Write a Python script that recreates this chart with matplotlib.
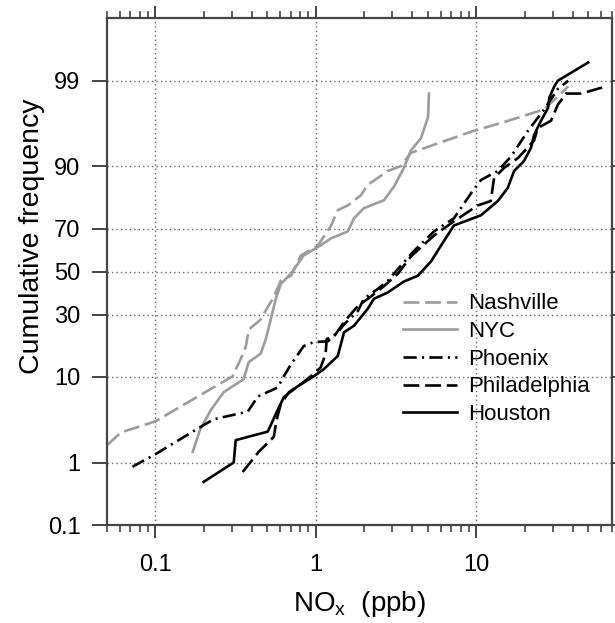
import matplotlib
matplotlib.use('Agg')
import matplotlib.pyplot as plt
import numpy as np
from statistics import NormalDist
from matplotlib.ticker import NullLocator, NullFormatter, LogLocator

plt.rcParams['font.family'] = ['Liberation Sans', 'DejaVu Sans']

# cumulative frequency curves (NOx in ppb, cumulative frequency in %)
nash_x = [0.0504, 0.061, 0.10, 0.184, 0.303, 0.34, 0.366, 0.382, 0.454, 0.502, 0.54, 0.605,
          0.70, 0.806, 1.03, 1.24, 1.37, 1.58, 1.91, 2.11, 2.81, 3.39, 3.91, 5.45, 9.67,
          14.3, 26.5, 37.4]
nash_p = [1.74, 2.5, 3.4, 6.4, 10.1, 14.3, 18, 24, 28, 33.4, 37, 45.6,
          48, 57.8, 62.5, 71, 77.3, 79, 82.4, 85.5, 89, 90.1, 92.6, 93.9, 95.7,
          96.5, 97.6, 98.8]

nyc_x = [0.171, 0.19, 0.222, 0.267, 0.355, 0.382, 0.454, 0.488, 0.524, 0.563, 0.605, 0.70,
         0.84, 1.07, 1.24, 1.58, 1.73, 1.99, 2.66, 3.07, 3.54, 3.91, 4.52, 5.0, 5.07]
nyc_p = [1.4, 2.7, 4.6, 7.1, 9.5, 13.5, 15.9, 20.6, 28, 37, 44, 49,
         57.8, 62.5, 65.7, 68.8, 74.2, 78, 80.8, 85, 89.7, 93, 94.8, 97, 98.5]

phx_x = [0.072, 0.10, 0.19, 0.231, 0.377, 0.435, 0.579, 0.632, 0.70, 0.84, 0.97, 1.19,
         1.37, 1.50, 1.83, 1.99, 2.44, 2.81, 3.39, 4.09, 5.45, 7.25, 9.27, 10.7, 13.6,
         16.5, 21.0, 26.5, 32.2, 37.4]
phx_p = [0.87, 1.3, 2.9, 3.6, 4.4, 6.4, 7.9, 10.1, 12.9, 18.2, 19.5, 19.8,
         23, 26, 31.6, 37, 41.7, 45.6, 52.9, 60, 68.8, 74.2, 83, 86.8, 89,
         92, 95.7, 97.6, 98.7, 99.0]

phl_x = [0.35, 0.44, 0.547, 0.571, 0.605, 0.68, 0.806, 0.93, 1.07, 1.15, 1.17, 1.30,
         1.50, 1.83, 2.2, 2.66, 3.25, 3.91, 5.45, 7.25, 10.2, 12.3, 12.9, 14.9, 18.2,
         22.9, 24.2, 29.2, 32.2, 36.3, 45, 64.4]
phl_p = [0.73, 1.4, 2.2, 3.6, 5.3, 7.1, 8.5, 10.1, 12.1, 15.7, 20.6, 21.5,
         27, 33.8, 38, 43, 49, 57.3, 67, 73, 79, 80.5, 87.3, 89.7, 91.7,
         94.5, 96, 96.7, 97.9, 98.5, 98.5, 98.8]

hou_x = [0.20, 0.308, 0.317, 0.502, 0.579, 0.632, 0.77, 0.97, 1.12, 1.37, 1.50, 1.73,
         2.11, 2.3, 2.81, 3.54, 4.32, 5.22, 6.03, 7.25, 10.7, 13.6, 15.7, 17.2, 19.8,
         21.9, 22.9, 25.3, 28, 28.5, 30.6, 32.2, 49.8]
hou_p = [0.52, 1.0, 2.0, 2.56, 4.6, 6.3, 8.1, 10.1, 11.7, 15.2, 23, 25.5,
         32.6, 37, 40, 45.2, 48, 54.9, 62.5, 71.3, 75.4, 80.5, 84.6, 89, 91.1,
         93.4, 95.2, 96.7, 97.7, 98.3, 98.8, 99.0, 99.46]

yticks = [0.1, 1, 10, 30, 50, 70, 90, 99]
ytick_labels = ['0.1', '1', '10', '30', '50', '70', '90', '99']
xticks = [0.1, 1, 10]
xtick_labels = ['0.1', '1', '10']

nd = NormalDist()


def prob_fwd(p):
    p = np.clip(np.asarray(p, dtype=float), 1e-6, 100 - 1e-6)
    return np.vectorize(lambda v: nd.inv_cdf(v / 100.0), otypes=[float])(p)


def prob_inv(z):
    z = np.asarray(z, dtype=float)
    return np.vectorize(lambda v: nd.cdf(v) * 100.0, otypes=[float])(z)


gray = '#9c9c9c'
lw = 1.9

fig = plt.figure(figsize=(6.15, 6.23), dpi=100)
ax = fig.add_axes([0.174, 0.157, 0.821, 0.814])

ax.plot(nash_x, nash_p, color=gray, lw=lw, dashes=(6, 2.2), label='Nashville')
ax.plot(nyc_x, nyc_p, color=gray, lw=lw, label='NYC')
ax.plot(phx_x, phx_p, color='black', lw=lw, dashes=(5, 2, 0.8, 2), label='Phoenix')
ax.plot(phl_x, phl_p, color='black', lw=lw, dashes=(6, 2.2), label='Philadelphia')
ax.plot(hou_x, hou_p, color='black', lw=lw, label='Houston')

ax.set_xscale('log')
ax.set_xlim(0.05, 70)
ax.set_yscale('function', functions=(prob_fwd, prob_inv))
ax.set_ylim(0.1, 99.9)

ax.set_xticks(xticks)
ax.set_xticklabels(xtick_labels)
ax.xaxis.set_minor_locator(LogLocator(base=10, subs=np.arange(2, 10)))
ax.xaxis.set_minor_formatter(NullFormatter())
ax.set_yticks(yticks)
ax.set_yticklabels(ytick_labels)
ax.yaxis.set_minor_locator(NullLocator())

ax.grid(True, which='major', color='#666666', linestyle=(0, (1, 2.2)), linewidth=1.0)

spine_c = '#444444'
for s in ax.spines.values():
    s.set_color(spine_c)
    s.set_linewidth(1.6)

ax.tick_params(axis='x', which='major', direction='out', top=True, length=9, width=1.4,
               color=spine_c, labelsize=17, pad=12)
ax.tick_params(axis='x', which='minor', direction='out', top=True, length=5, width=1.2,
               color=spine_c)
ax.tick_params(axis='y', which='major', direction='out', length=11, width=1.4,
               color=spine_c, labelsize=17, pad=8)

# short ticks on the right side
ax2 = ax.twinx()
ax2.set_yscale('function', functions=(prob_fwd, prob_inv))
ax2.set_ylim(ax.get_ylim())
ax2.set_yticks(yticks)
ax2.set_yticklabels([])
ax2.yaxis.set_minor_locator(NullLocator())
ax2.tick_params(axis='y', direction='out', length=4, width=1.4, color=spine_c)
for s in ax2.spines.values():
    s.set_visible(False)

ax.set_xlabel('NO$_\\mathregular{x}$  (ppb)', fontsize=20)
ax.xaxis.set_label_coords(0.5, -0.125)
ax.set_ylabel('Cumulative frequency', fontsize=20.5)
ax.yaxis.set_label_coords(-0.122, 0.57)

ax.legend(loc='upper left', bbox_to_anchor=(0.586, 0.457), frameon=False, fontsize=16,
          handlelength=2.45, handletextpad=0.5, labelspacing=0.3, borderpad=0,
          borderaxespad=0)

fig.savefig('out.png', dpi=100)
